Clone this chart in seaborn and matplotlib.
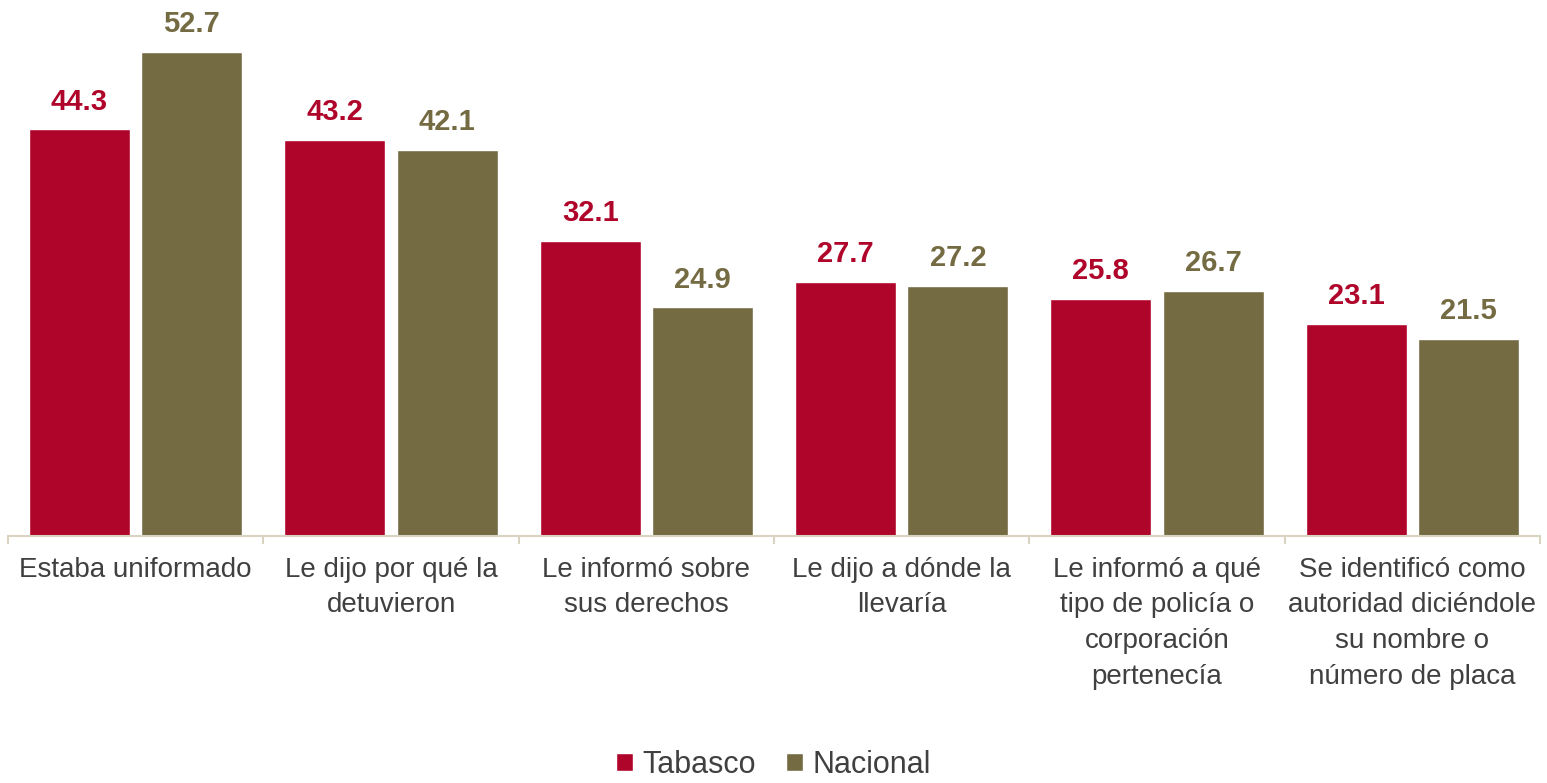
import pandas
import seaborn
import matplotlib.pyplot as plt
from matplotlib.patches import Patch

categorias = [
    'Estaba uniformado',
    'Le dijo por qué la\ndetuvieron',
    'Le informó sobre\nsus derechos',
    'Le dijo a dónde la\nllevaría',
    'Le informó a qué\ntipo de policía o\ncorporación\npertenecía',
    'Se identificó como\nautoridad diciéndole\nsu nombre o\nnúmero de placa',
]
tabasco = [44.3, 43.2, 32.1, 27.7, 25.8, 23.1]
nacional = [52.7, 42.1, 24.9, 27.2, 26.7, 21.5]
series = ['Tabasco', 'Nacional']
colores = ['#B0052A', '#746B42']

data = pandas.DataFrame({
    'cat': categorias * 2,
    'valor': tabasco + nacional,
    'serie': [series[0]] * len(categorias) + [series[1]] * len(categorias),
})

seaborn.set_style('white')
plt.rcParams['font.family'] = ['Liberation Sans', 'DejaVu Sans']

fig = plt.figure(figsize=[15.47, 7.83], dpi=100)
ax = fig.add_axes([8 / 1547, (783 - 536) / 783, 1532 / 1547, 536 / 783])

seaborn.barplot(data=data, x='cat', y='valor', hue='serie', palette=colores,
                width=0.88, gap=0.1, ax=ax, legend=False, saturation=1)

for cont, c in zip(ax.containers, colores):
    ax.bar_label(cont, fmt='%.1f', padding=10, color=c, fontsize=21, fontweight='bold')

ax.set_xlim(-0.5, 5.5)
ax.set_ylim(0, 58.4)
ax.set_xlabel('')
ax.set_ylabel('')
ax.set_yticks([])
for s in ['top', 'right', 'left']:
    ax.spines[s].set_visible(False)
ax.spines['bottom'].set_color('#D9D4C2')
ax.spines['bottom'].set_linewidth(1.5)

ax.set_xticks(range(len(categorias)))
ax.set_xticklabels(categorias, fontsize=20, color='#404040', linespacing=1.48)
ax.tick_params(axis='x', which='major', length=0, pad=15)
ax.set_xticks([i - 0.5 for i in range(len(categorias) + 1)], minor=True)
ax.tick_params(axis='x', which='minor', length=6, width=1.5, color='#D9D4C2', direction='out')
ax.tick_params(axis='x', which='minor', bottom=True)

handles = [Patch(facecolor=c, label=s) for c, s in zip(colores, series)]
fig.legend(handles=handles, loc='center', bbox_to_anchor=(0.5, 18 / 783), ncol=2, frameon=False,
           fontsize=22, handlelength=0.55, handleheight=0.55, handletextpad=0.3, columnspacing=1.0,
           labelcolor='#404040', borderpad=0.2)

plt.savefig('out.png', dpi=100)
